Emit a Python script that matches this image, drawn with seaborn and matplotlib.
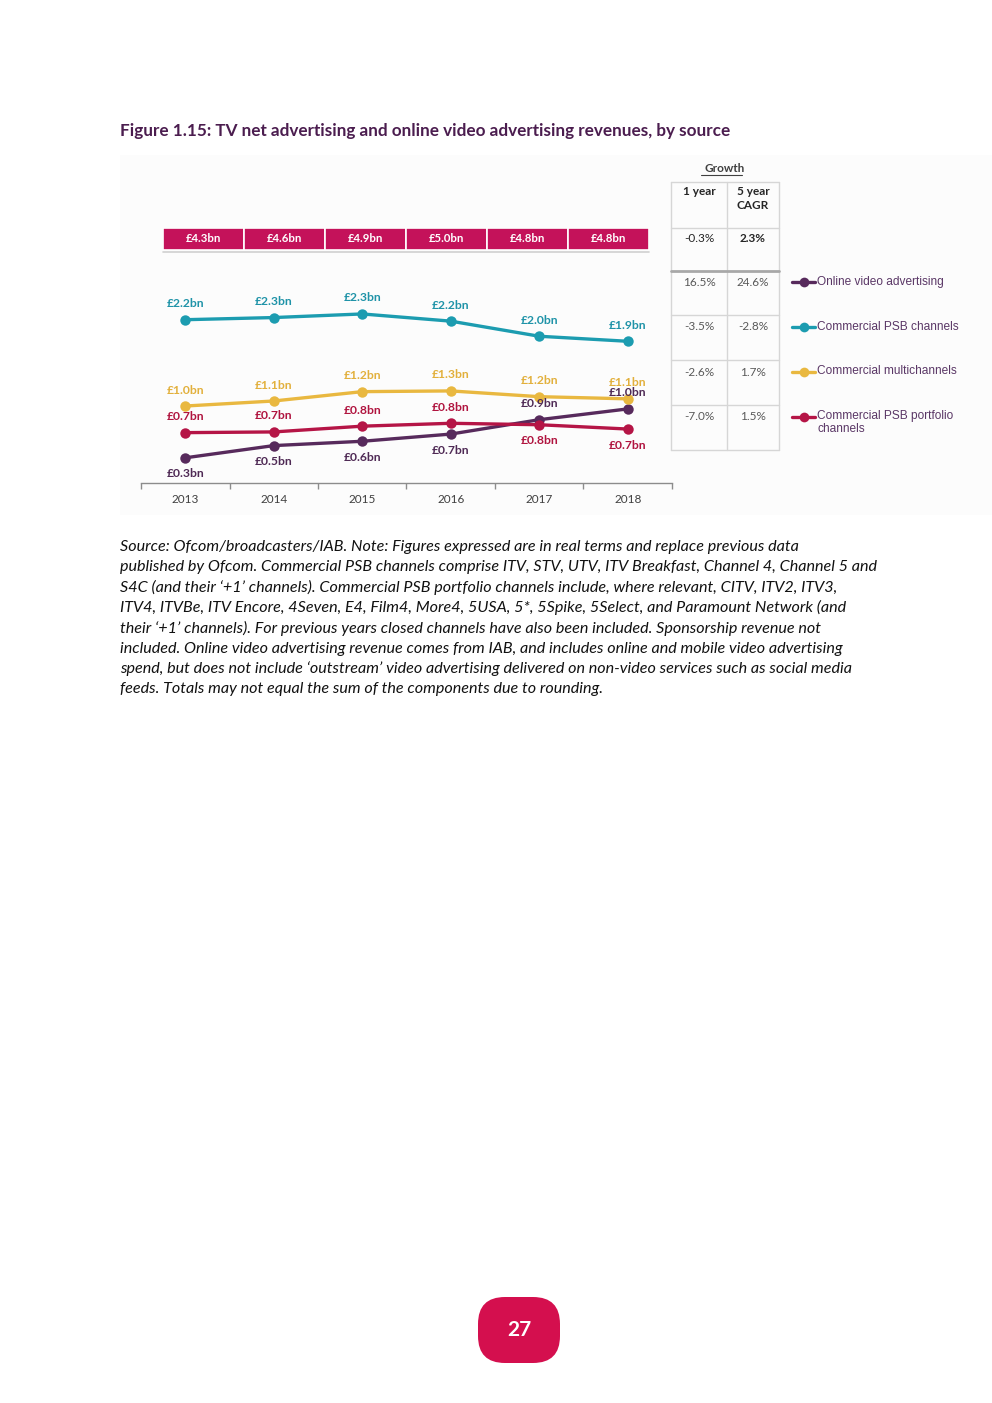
import matplotlib
matplotlib.use("Agg")
import matplotlib.pyplot as plt
from matplotlib.patches import Rectangle, FancyBboxPatch
from matplotlib.lines import Line2D
import seaborn as sns
import pandas as pd

# ---------------- data ----------------
years = ["2013", "2014", "2015", "2016", "2017", "2018"]
totals = ["£4.3bn", "£4.6bn", "£4.9bn", "£5.0bn", "£4.8bn", "£4.8bn"]

series_names = ["Online video advertising", "Commercial PSB channels",
                "Commercial multichannels", "Commercial PSB portfolio\nchannels"]
online = [0.32, 0.49, 0.55, 0.65, 0.85, 1.00]
psb = [2.24, 2.27, 2.32, 2.22, 2.01, 1.94]
multi = [1.04, 1.11, 1.24, 1.25, 1.17, 1.14]
portfolio = [0.67, 0.68, 0.76, 0.80, 0.78, 0.72]

online_labels = ["£0.3bn", "£0.5bn", "£0.6bn", "£0.7bn", "£0.9bn", "£1.0bn"]
psb_labels = ["£2.2bn", "£2.3bn", "£2.3bn", "£2.2bn", "£2.0bn", "£1.9bn"]
multi_labels = ["£1.0bn", "£1.1bn", "£1.2bn", "£1.3bn", "£1.2bn", "£1.1bn"]
portfolio_labels = ["£0.7bn", "£0.7bn", "£0.8bn", "£0.8bn", "£0.8bn", "£0.7bn"]

growth_header = ["1 year", "5 year\nCAGR"]
growth_total = ["-0.3%", "2.3%"]
growth_1yr = ["16.5%", "-3.5%", "-2.6%", "-7.0%"]
growth_5yr = ["24.6%", "-2.8%", "1.7%", "1.5%"]

title = "Figure 1.15: TV net advertising and online video advertising revenues, by source"
note_lines = [
    "Source: Ofcom/broadcasters/IAB. Note: Figures expressed are in real terms and replace previous data",
    "published by Ofcom. Commercial PSB channels comprise ITV, STV, UTV, ITV Breakfast, Channel 4, Channel 5 and",
    "S4C (and their \u2018+1\u2019 channels). Commercial PSB portfolio channels include, where relevant, CITV, ITV2, ITV3,",
    "ITV4, ITVBe, ITV Encore, 4Seven, E4, Film4, More4, 5USA, 5*, 5Spike, 5Select, and Paramount Network (and",
    "their \u2018+1\u2019 channels). For previous years closed channels have also been included. Sponsorship revenue not",
    "included. Online video advertising revenue comes from IAB, and includes online and mobile video advertising",
    "spend, but does not include \u2018outstream\u2019 video advertising delivered on non-video services such as social media",
    "feeds. Totals may not equal the sum of the components due to rounding.",
]
page_number = "27"

# ---------------- style ----------------
C_ONLINE = "#572a5c"
C_PSB = "#1c9cb0"
C_MULTI = "#e9b840"
C_PORT = "#b51546"
C_TOTAL = "#c4125a"
C_TITLE = "#4b1d4f"
C_LEGEND = "#5a3766"

sns.set_theme(style="white")
plt.rcParams["font.family"] = ["Lato", "DejaVu Sans"]

W, H = 992, 1403
fig = plt.figure(figsize=(W / 100, H / 100), dpi=100)
fig.patch.set_facecolor("white")


def fx(px):
    return px / W


def fy(py):
    return 1 - py / H


# overlay axes in pixel coordinates for layout items
ov = fig.add_axes([0, 0, 1, 1], zorder=0)
ov.set_xlim(0, W)
ov.set_ylim(H, 0)
ov.axis("off")

# faint chart panel
ov.add_patch(Rectangle((120, 155), 872, 360, facecolor="#fcfcfc", edgecolor="none", zorder=0))

# title
ov.text(120, 131, title, fontsize=12.3, fontweight="bold", color=C_TITLE, va="center", ha="left")

# ---------------- main line chart ----------------
ax = fig.add_axes([fx(141), fy(483), fx(672) - fx(141), fy(260) - fy(483)], zorder=2)
ax.patch.set_alpha(0)
xs = list(range(len(years)))

specs = [
    (online, online_labels, C_ONLINE, "#4f2a55", [-1, -1, -1, -1, 1, 1]),
    (portfolio, portfolio_labels, C_PORT, "#b0143f", [1, 1, 1, 1, -1, -1]),
    (multi, multi_labels, C_MULTI, "#e2b03c", [1, 1, 1, 1, 1, 1]),
    (psb, psb_labels, C_PSB, "#1f93a8", [1, 1, 1, 1, 1, 1]),
]
for vals, labs, col, tcol, sides in specs:
    df = pd.DataFrame({"x": xs, "v": vals})
    sns.lineplot(data=df, x="x", y="v", color=col, linewidth=2.4, marker="o",
                 markersize=7.5, markeredgewidth=0, ax=ax, zorder=3)
    for x, v, lab, s in zip(xs, vals, labs, sides):
        ax.annotate(lab, (x, v), xytext=(0, 11.5 * s), textcoords="offset points",
                    ha="center", va="center", fontsize=8.7, fontweight="bold", color=tcol, zorder=4)

ax.set_xlim(-0.5, 5.5)
ax.set_ylim(-0.03, 3.07)
ax.set_xlabel("")
ax.set_ylabel("")
ax.set_yticks([])
ax.set_xticks(xs)
ax.set_xticklabels(years, fontsize=8.5, color="#404040")
ax.set_xticks([i - 0.5 for i in range(len(years) + 1)], minor=True)
ax.tick_params(axis="x", which="major", length=0, pad=8)
ax.tick_params(axis="x", which="minor", length=4, width=1, color="#8c8c8c", direction="out", bottom=True)
for s in ["top", "right", "left"]:
    ax.spines[s].set_visible(False)
ax.spines["bottom"].set_color("#8c8c8c")
ax.spines["bottom"].set_linewidth(1)

# ---------------- totals row ----------------
axt = fig.add_axes([fx(163), fy(250), fx(649) - fx(163), fy(228) - fy(250)], zorder=2)
axt.bar(xs, [1] * len(xs), width=1, color=C_TOTAL, edgecolor="white", linewidth=1.2)
for x, lab in zip(xs, totals):
    axt.text(x, 0.5, lab, ha="center", va="center", color="white", fontsize=8.2, fontweight="bold")
axt.set_xlim(-0.5, 5.5)
axt.set_ylim(0, 1)
axt.axis("off")
ov.plot([163, 649], [252, 252], color="#d0d0d0", lw=1.2, zorder=1)

# ---------------- growth table ----------------
tx = [671, 727, 779]
ty = [182, 228, 271, 315, 360, 405, 450]
grid_c = "#d6d6d6"
for x in tx:
    ov.plot([x, x], [ty[0], ty[-1]], color=grid_c, lw=1, zorder=1)
for y in ty:
    if y == 271:
        ov.plot([tx[0], tx[-1]], [y, y], color="#a8a8a8", lw=2, zorder=1)
    else:
        ov.plot([tx[0], tx[-1]], [y, y], color=grid_c, lw=1, zorder=1)
colx = [(tx[0] + tx[1]) / 2, (tx[1] + tx[2]) / 2]
ov.text((tx[0] + tx[2]) / 2, 168, "Growth", ha="center", va="center", fontsize=8.5,
        color="#404040", fontweight="bold")
ov.plot([701, 742], [174.5, 174.5], color="#404040", lw=0.8)
ov.text(colx[0], 186, growth_header[0], ha="center", va="top", fontsize=8.5, color="#262626",
        fontweight="bold")
ov.text(colx[1], 186, growth_header[1], ha="center", va="top", fontsize=8.5, color="#262626",
        fontweight="bold", linespacing=1.3)
ov.text(colx[0], 239, growth_total[0], ha="center", va="center", fontsize=8.5, color="#262626")
ov.text(colx[1], 239, growth_total[1], ha="center", va="center", fontsize=8.5, color="#262626",
        fontweight="bold")
row_y = [283, 327, 372, 416]
for y, a, b in zip(row_y, growth_1yr, growth_5yr):
    ov.text(colx[0], y, a, ha="center", va="center", fontsize=8.5, color="#595959")
    ov.text(colx[1], y, b, ha="center", va="center", fontsize=8.5, color="#595959")

# ---------------- legend ----------------
leg_cols = [C_ONLINE, C_PSB, C_MULTI, C_PORT]
leg_y = [282, 327, 372, 417]
handles = [Line2D([0], [0], color=c, lw=2.4, marker="o", markersize=7, markeredgewidth=0)
           for c in leg_cols]
for hnd, name, y in zip(handles, series_names, leg_y):
    ov.plot([792, 815], [y, y], color=hnd.get_color(), lw=2.4, zorder=3)
    ov.plot([803.5], [y], color=hnd.get_color(), marker="o", markersize=7, markeredgewidth=0, zorder=3)
    ov.text(817, y - 6.5, name, ha="left", va="top", fontsize=8.6, color=C_LEGEND,
            family=["Liberation Sans", "DejaVu Sans"], linespacing=1.05)

# ---------------- note ----------------
for i, line in enumerate(note_lines):
    ov.text(120, 547 + i * 20.3, line, ha="left", va="center", fontsize=11.6, style="italic",
            color="#111111")

# ---------------- page number ----------------
ov.add_patch(FancyBboxPatch((487, 1306), 64, 48, boxstyle="round,pad=9,rounding_size=27",
                            facecolor="#d40f4e", edgecolor="none", zorder=2))
ov.text(519, 1330, page_number, ha="center", va="center", fontsize=15, fontweight="bold",
        color="white", zorder=3)

fig.savefig("out.png", dpi=100, facecolor="white")
